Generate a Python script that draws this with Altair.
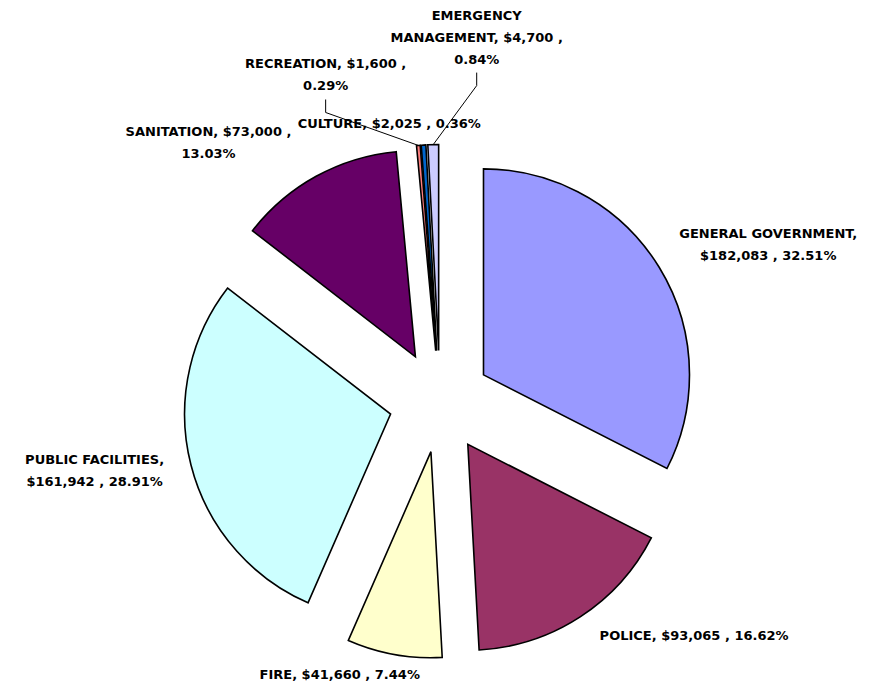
import altair as alt
import pandas as pd

# ---- data ----
categories = ["GENERAL GOVERNMENT", "POLICE", "FIRE", "PUBLIC FACILITIES",
              "SANITATION", "RECREATION", "CULTURE", "EMERGENCY MANAGEMENT"]
amounts = [182083, 93065, 41660, 161942, 73000, 1600, 2025, 4700]
label_text = [
    "GENERAL GOVERNMENT,\n$182,083 , 32.51%",
    "POLICE, $93,065 , 16.62%",
    "FIRE, $41,660 , 7.44%",
    "PUBLIC FACILITIES,\n$161,942 , 28.91%",
    "SANITATION, $73,000 ,\n13.03%",
    "RECREATION, $1,600 ,\n0.29%",
    "CULTURE, $2,025 , 0.36%",
    "EMERGENCY\nMANAGEMENT, $4,700 ,\n0.84%",
]
colors = ["#9999FF", "#993366", "#FFFFCC", "#CCFFFF",
          "#660066", "#FF8080", "#0066CC", "#CCCCFF"]

# ---- layout / style (not data) ----
W, H = 872, 688
CX, CY = 440, 401.5      # pie centre
R = 206                  # pie radius
EXPLODE = 51             # slice explosion distance
LR = 277                 # label anchor radius
label_dx = [92, 103, -51, -77, -98, -91, -33, 44]
label_dy = [-19, 6, 5, -6, -23, -57, 3, -105]
leader = [False, False, False, False, False, True, False, True]
FONT = "DejaVu Sans"

df = pd.DataFrame({
    "order": list(range(len(categories))),
    "category": categories,
    "amount": amounts,
    "label": label_text,
    "ldx": label_dx,
    "ldy": label_dy,
    "leader": leader,
    "nlines": [t.count("\n") + 1 for t in label_text],
})

base = (
    alt.Chart(df)
    .transform_joinaggregate(total="sum(amount)")
    .transform_window(cum="sum(amount)", sort=[alt.SortField("order")], frame=[None, 0])
    .transform_calculate(t1="2*PI*datum.cum/datum.total")
    .transform_calculate(t0="2*PI*(datum.cum-datum.amount)/datum.total")
    .transform_calculate(mid="(datum.t0+datum.t1)/2")
    .transform_calculate(cx=f"{CX}+{EXPLODE}*sin(datum.mid)")
    .transform_calculate(cy=f"{CY}-{EXPLODE}*cos(datum.mid)")
    .transform_calculate(lx=f"{CX}+{LR}*sin(datum.mid)+datum.ldx")
    .transform_calculate(ly=f"{CY}-{LR}*cos(datum.mid)+datum.ldy")
)

arcs = base.mark_arc(radius=R, stroke="black", strokeWidth=1.6).encode(
    x=alt.X("cx:Q", scale=None, axis=None),
    y=alt.Y("cy:Q", scale=None, axis=None),
    theta=alt.Theta("t0:Q", scale=None, stack=None),
    theta2="t1:Q",
    color=alt.Color("category:N", scale=alt.Scale(domain=categories, range=colors), legend=None),
    order=alt.Order("order:Q"),
)

labels = base.mark_text(
    font=FONT, fontWeight="bold", fontSize=13, lineBreak="\n", lineHeight=22,
    align="center", baseline="alphabetic", color="black",
).encode(
    x=alt.X("lx:Q", scale=None, axis=None),
    y=alt.Y("ly:Q", scale=None, axis=None),
    text="label:N",
)

lead = (
    base.transform_filter("datum.leader")
    .transform_calculate(sy="datum.ly+(datum.nlines-1)*22+9")
    .transform_calculate(ky="datum.sy+13")
    .transform_calculate(ex=f"datum.cx+{R}*sin(datum.mid)")
    .transform_calculate(ey=f"datum.cy-{R}*cos(datum.mid)")
)
lead1 = lead.mark_rule(color="black", strokeWidth=1).encode(
    x=alt.X("lx:Q", scale=None, axis=None),
    y=alt.Y("sy:Q", scale=None, axis=None),
    y2="ky:Q",
)
lead2 = lead.mark_rule(color="black", strokeWidth=1).encode(
    x=alt.X("lx:Q", scale=None, axis=None),
    y=alt.Y("ky:Q", scale=None, axis=None),
    x2="ex:Q",
    y2="ey:Q",
)

chart = (
    alt.layer(arcs, lead1, lead2, labels)
    .properties(width=W, height=H, autosize=alt.AutoSizeParams(type="none"), padding=0,
                background="white")
    .configure_view(stroke=None)
)

chart.save("out.html", embed_options={"renderer": "svg", "actions": False})
